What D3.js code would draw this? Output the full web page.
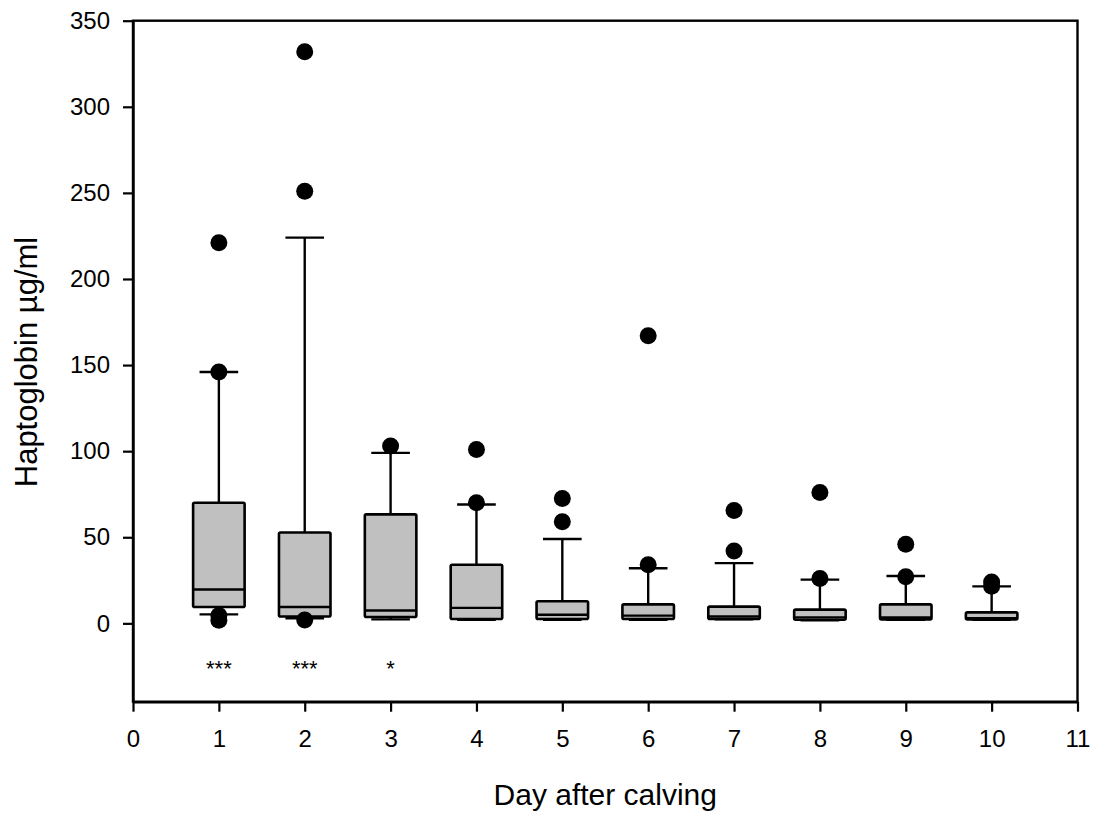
<!DOCTYPE html>
<html>
<head>
<meta charset="utf-8">
<script src="https://cdn.jsdelivr.net/npm/d3@7"></script>
<style>
  body { margin: 0; background: #fff; }
  text { font-family: "Liberation Sans", Arial, sans-serif; }
</style>
</head>
<body>
<svg id="canvas"></svg>
<script>
// values, one entry per day
const days = [1, 2, 3, 4, 5, 6, 7, 8, 9, 10];
const whiskerLow = [5.2, 3, 2.3, 2, 2, 2, 2.3, 1.8, 2, 2];
const q1 = [9.5, 4, 3.7, 2.5, 2.5, 2.5, 2.5, 2.1, 2.3, 2.3];
const median = [19.7, 9.5, 7.5, 9, 5, 4.5, 4, 3.5, 3.5, 3];
const q3 = [70, 52.8, 63.3, 34, 12.8, 11, 9.7, 8, 11, 6.4];
const whiskerHigh = [146, 224, 99, 69, 49, 32, 35, 25.4, 27.5, 21.5];
const outliers = [
  [221, 146, 4.5, 1.8],
  [332, 251, 1.9],
  [103],
  [101, 70],
  [72.5, 59],
  [167, 34],
  [65.6, 42],
  [76, 26],
  [46, 27],
  [24, 21.5]
];
const stars = ['***', '***', '*', '', '', '', '', '', '', ''];
const xTicks = [0, 1, 2, 3, 4, 5, 6, 7, 8, 9, 10, 11];
const yTicks = [0, 50, 100, 150, 200, 250, 300, 350];

const w = 1096;
const h = 820;
const pLeft = 133, pRight = 1077.5, pTop = 20.7, pBottom = 701.7;

const svg = d3.select('#canvas').attr('width', w).attr('height', h);

const x = d3.scaleLinear().domain([0, 11]).range([pLeft, pRight]);
const y = d3.scaleLinear().domain([-45.5, 350]).range([pBottom, pTop]);

const boxW = x(0.6) - x(0);
const capW = x(0.45) - x(0);

const rows = days.map((d, i) => ({
  day: d, lo: whiskerLow[i], q1: q1[i], med: median[i], q3: q3[i], hi: whiskerHigh[i],
  out: outliers[i], star: stars[i]
}));

const g = svg.selectAll('g.day').data(rows).enter().append('g').attr('class', 'day');

// whiskers
g.append('line')
  .attr('x1', d => x(d.day)).attr('x2', d => x(d.day))
  .attr('y1', d => y(d.lo)).attr('y2', d => y(d.hi))
  .attr('stroke', '#000').attr('stroke-width', 2.4);
g.append('line')
  .attr('x1', d => x(d.day) - capW / 2).attr('x2', d => x(d.day) + capW / 2)
  .attr('y1', d => y(d.hi)).attr('y2', d => y(d.hi))
  .attr('stroke', '#000').attr('stroke-width', 2.4);
g.append('line')
  .attr('x1', d => x(d.day) - capW / 2).attr('x2', d => x(d.day) + capW / 2)
  .attr('y1', d => y(d.lo)).attr('y2', d => y(d.lo))
  .attr('stroke', '#000').attr('stroke-width', 2.4);

// boxes
g.append('rect')
  .attr('x', d => x(d.day) - boxW / 2)
  .attr('width', boxW)
  .attr('y', d => y(d.q3))
  .attr('height', d => y(d.q1) - y(d.q3))
  .attr('rx', 1.5)
  .attr('fill', '#c0c0c0')
  .attr('stroke', '#000')
  .attr('stroke-width', 2.6);
g.append('line')
  .attr('x1', d => x(d.day) - boxW / 2).attr('x2', d => x(d.day) + boxW / 2)
  .attr('y1', d => y(d.med)).attr('y2', d => y(d.med))
  .attr('stroke', '#000').attr('stroke-width', 2.4);

// outliers
g.selectAll('circle')
  .data(d => d.out.map(v => ({ day: d.day, v: v })))
  .enter()
  .append('circle')
  .attr('cx', d => x(d.day))
  .attr('cy', d => y(d.v))
  .attr('r', 8.5)
  .attr('fill', '#000');

// significance marks
g.append('text')
  .attr('x', d => x(d.day))
  .attr('y', y(-24.4) + 11)
  .attr('text-anchor', 'middle')
  .attr('font-size', 22)
  .text(d => d.star);

// frame
svg.append('rect')
  .attr('x', pLeft).attr('y', pTop)
  .attr('width', pRight - pLeft).attr('height', pBottom - pTop)
  .attr('fill', 'none').attr('stroke', '#000').attr('stroke-width', 2.4);

const xAxis = d3.axisBottom(x).tickValues(xTicks).tickFormat(d3.format('d'))
  .tickSize(10).tickSizeOuter(0).tickPadding(18);
const yAxis = d3.axisLeft(y).tickValues(yTicks).tickFormat(d3.format('d'))
  .tickSize(10).tickSizeOuter(0).tickPadding(13);

const xg = svg.append('g').attr('transform', 'translate(0,' + pBottom + ')').call(xAxis);
const yg = svg.append('g').attr('transform', 'translate(' + pLeft + ',0)').call(yAxis);

[xg, yg].forEach(a => {
  a.select('.domain').attr('stroke-width', 2.4);
  a.selectAll('.tick line').attr('stroke-width', 2.2);
  a.selectAll('.tick text').attr('font-size', 24).attr('fill', '#000')
    .style('font-family', '"Liberation Sans", Arial, sans-serif');
});

svg.append('text')
  .attr('x', (pLeft + pRight) / 2)
  .attr('y', 805)
  .attr('text-anchor', 'middle')
  .attr('font-size', 30)
  .text('Day after calving');

svg.append('text')
  .attr('transform', 'translate(37,362) rotate(-90)')
  .attr('text-anchor', 'middle')
  .attr('font-size', 31)
  .text('Haptoglobin µg/ml');
</script>
</body>
</html>
